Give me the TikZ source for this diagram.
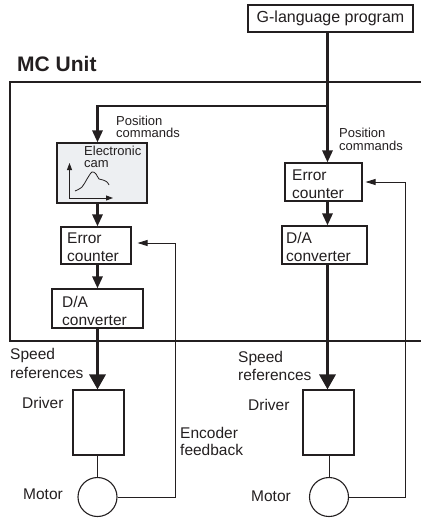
\documentclass[tikz,border=0pt]{standalone}
\usepackage{fontspec}
\setmainfont{Liberation Sans}
\usetikzlibrary{arrows.meta}
\definecolor{ink}{HTML}{231F20}
\definecolor{camfill}{HTML}{EDEFF2}
\begin{document}
\begin{tikzpicture}[x=1pt,y=-1pt,
  box/.style={draw=ink, line width=1.1pt, fill=white, inner sep=0pt},
  lbl/.style={anchor=base west, inner sep=0pt, align=left, text=ink, font=\fontsize{15.5}{18.5}\selectfont},
  smalllbl/.style={anchor=base west, inner sep=0pt, align=left, text=ink, font=\fontsize{13}{12.8}\selectfont},
  bigarrow/.style={draw=ink, line width=3.2pt, -{Triangle[width=16pt,length=15pt]}},
  midarrow/.style={draw=ink, line width=2.8pt, -{Triangle[width=10pt,length=12pt]}},
  thinarrow/.style={draw=ink, line width=0.9pt, -{Triangle[width=6pt,length=10pt]}},
  thinline/.style={draw=ink, line width=0.9pt},
]
\useasboundingbox (0,0) rectangle (421,520);

% MC Unit frame
\coordinate (mcTR) at (421,82);
\coordinate (mcBL) at (10,341);
\coordinate (mcBR) at (421,341);
\draw[draw=ink, line width=1.3pt] (mcTR) -| (mcBL) -- (mcBR);
\node[anchor=base west, inner sep=0pt, text=ink, font=\fontsize{21}{24}\selectfont\bfseries] (tMC) at (17,71.5) {MC Unit};

% boxes
\node[box, minimum width=165pt, minimum height=27pt, font=\fontsize{16}{18}\selectfont, text=ink] (gprog) at (330.5,18.5) {G-language program};
\node[box, fill=camfill, minimum width=90pt, minimum height=60pt] (cam) at (102,173) {};
\node[box, minimum width=70pt, minimum height=37pt] (ecL) at (96,245.5) {};
\node[box, minimum width=91pt, minimum height=39pt] (daL) at (97.5,308.5) {};
\node[box, minimum width=77pt, minimum height=38pt] (ecR) at (323.5,182) {};
\node[box, minimum width=85pt, minimum height=38pt] (daR) at (324.5,245) {};
\node[box, minimum width=51pt, minimum height=65pt] (drvL) at (98.5,422.5) {};
\node[box, minimum width=51pt, minimum height=65pt] (drvR) at (328.5,422.5) {};
\node[box, circle, minimum size=39pt] (motL) at (97.5,497) {};
\node[box, circle, minimum size=39pt] (motR) at (329,497) {};

% cam graphic
\draw[draw=ink, line width=0.9pt, {Triangle[width=5pt,length=7pt]}-{Triangle[width=5pt,length=7pt]}] (69.5,163) -- (69.5,198) -- (113,198);
\draw[draw=ink, line width=0.8pt] plot[smooth, tension=0.6] coordinates {(75,191) (82,187) (87,179) (92,172) (96,174) (99,179) (103,180) (107,182) (109,185)};

% texts (multi-line nodes: base anchor = last line baseline)
\node[smalllbl] (tCam) at (84,167.8) {Electronic\\cam};
\node[lbl] (tEcL) at (67,261.5) {Error\\counter};
\node[lbl] (tDaL) at (62,325.5) {D/A\\converter};
\node[lbl] (tEcR) at (292,198.5) {Error\\counter};
\node[lbl] (tDaR) at (286,261.5) {D/A\\converter};
\node[smalllbl] (tPosL) at (116,137.8) {Position\\commands};
\node[smalllbl] (tPosR) at (339,150.3) {Position\\commands};
\node[lbl] (tSpL) at (10,378) {Speed\\references};
\node[lbl] (tSpR) at (238,380.5) {Speed\\references};
\node[lbl] (tDrvL) at (22,408) {Driver};
\node[lbl] (tDrvR) at (248,410) {Driver};
\node[lbl, font=\fontsize{15.5}{17}\selectfont] (tEnc) at (180,455) {Encoder\\feedback};
\node[lbl] (tMotL) at (23,499.5) {Motor};
\node[lbl] (tMotR) at (251,501) {Motor};

% command distribution
\coordinate (jn) at (327.5,106);
\coordinate (jl) at (97.5,106);
\coordinate (spR) at (327.5,0);
\draw[midarrow] (gprog.south -| jn) -- (ecR.north -| jn);
\draw[midarrow] (jn) -- (jl) -- (cam.north -| jl);

% left chain
\draw[midarrow] (cam.south -| jl) -- (ecL.north -| jl);
\draw[midarrow] (ecL.south -| jl) -- (daL.north -| jl);
\draw[bigarrow] (daL.south -| jl) -- (drvL.north -| jl);
\draw[thinline] (drvL.south -| motL) -- (motL.north);

% right chain
\draw[midarrow] (ecR.south -| spR) -- (daR.north -| spR);
\draw[bigarrow] (daR.south -| spR) -- (drvR.north -| spR);
\draw[thinline] (drvR.south -| motR) -- (motR.north);

% feedback
\coordinate (fbL) at (175,243);
\coordinate (fbR) at (405.5,182);
\draw[thinarrow] (motL.east) -| (fbL) -- ([xshift=6pt]ecL.east |- fbL);
\draw[thinarrow] (motR.east) -| (fbR) -- ([xshift=3pt]ecR.east |- fbR);
\end{tikzpicture}
\end{document}
